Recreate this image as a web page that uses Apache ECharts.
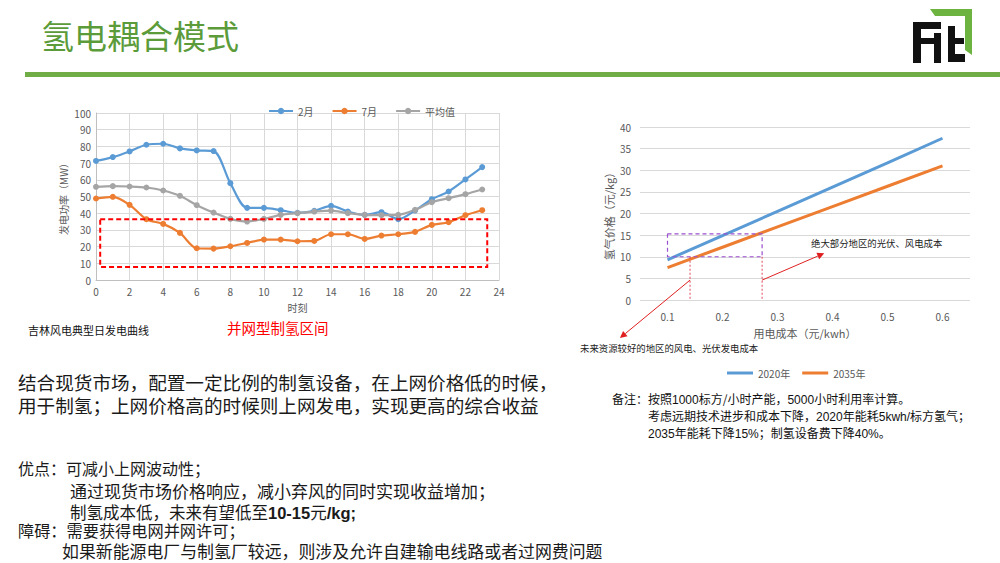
<!DOCTYPE html>
<html><head><meta charset="utf-8">
<script src="https://cdn.jsdelivr.net/npm/echarts@6/dist/echarts.min.js"></script>
<style>
html,body{margin:0;padding:0;background:#fff;}
#wrap{position:relative;width:1000px;height:563px;overflow:hidden;font-family:"Noto Sans CJK SC","Noto Sans",sans-serif;}
#chart{position:absolute;left:0;top:0;width:1000px;height:563px;}
.t{position:absolute;white-space:nowrap;color:#1a1a1a;}
.lat{font-family:"Liberation Sans",Arial,"Noto Sans CJK SC",sans-serif;}
</style></head>
<body><div id="wrap">
<div id="chart"></div>
<div class="t" style="left:41px;top:15px;font-size:33px;line-height:40px;color:#5B9B3A;">氢电耦合模式</div>
<div style="position:absolute;left:25px;top:72px;width:975px;height:5px;background:#70AD47;"></div>
<svg style="position:absolute;left:905px;top:6px;" width="80" height="62" viewBox="905 6 80 62">
  <polygon points="930,9 972,9 972,55 965,50 965,16 935,16" fill="#6CB33F"/>
  <path d="M913,22 h28 v7 h-20 v9 h18 v6 h-18 v19 h-8 z" fill="#111"/>
  <path d="M934,33 h7 v30 h-7 z" fill="#111"/>
  <path d="M948,26 h7 v28 h10 v8 h-17 z" fill="#111"/>
  <path d="M955,38 h9 v6 h-9 z" fill="#111"/>
</svg>
<div class="t" style="left:28px;top:322px;font-size:11px;line-height:16px;color:#111;">吉林风电典型日发电曲线</div>
<div class="t" style="left:227px;top:319px;font-size:14.5px;line-height:18px;color:#FF0000;">并网型制氢区间</div>
<div class="t" style="left:811px;top:236px;font-size:9.4px;line-height:14px;color:#222;">绝大部分地区的光伏、风电成本</div>
<div class="t" style="left:580px;top:341px;font-size:9.4px;line-height:14px;color:#222;">未来资源较好的地区的风电、光伏发电成本</div>
<div class="t" style="left:18px;top:373px;font-size:18.6px;line-height:18px;">结合现货市场，配置一定比例的制氢设备，在上网价格低的时候，</div>
<div class="t" style="left:18px;top:396px;font-size:18.6px;line-height:18px;">用于制氢；上网价格高的时候则上网发电，实现更高的综合收益</div>
<div class="t" style="left:612px;top:391px;font-size:12px;line-height:15px;color:#111;">备注：按照<span class="lat">1000</span>标方/小时产能，<span class="lat">5000</span>小时利用率计算。</div>
<div class="t" style="left:648px;top:408px;font-size:12px;line-height:15px;color:#111;">考虑远期技术进步和成本下降，<span class="lat">2020</span>年能耗<span class="lat">5kwh/</span>标方氢气；</div>
<div class="t" style="left:648px;top:425px;font-size:12px;line-height:15px;color:#111;"><span class="lat">2035</span>年能耗下降<span class="lat">15%</span>；制氢设备费下降<span class="lat">40%</span>。</div>
<div class="t" style="left:18px;top:460px;font-size:16px;line-height:16px;">优点：可减小上网波动性；</div>
<div class="t" style="left:70px;top:483px;font-size:17px;line-height:16px;">通过现货市场价格响应，减小弃风的同时实现收益增加；</div>
<div class="t" style="left:70px;top:504px;font-size:16.5px;line-height:16px;">制氢成本低，未来有望低至<span class="lat" style="font-weight:bold;">10-15</span>元<span class="lat" style="font-weight:bold;">/kg;</span></div>
<div class="t" style="left:18px;top:522px;font-size:16.2px;line-height:16px;">障碍：需要获得电网并网许可；</div>
<div class="t" style="left:62px;top:543px;font-size:16.9px;line-height:16px;">如果新能源电厂与制氢厂较远，则涉及允许自建输电线路或者过网费问题</div>
</div>
<script>
// ---- Left chart data (吉林风电典型日发电曲线) ----
const hours = [0,1,2,3,4,5,6,7,8,9,10,11,12,13,14,15,16,17,18,19,20,21,22,23];
const febPower = [71.3,73.6,77,81,81.6,78.8,77.6,77.2,58,43.2,43.2,41.8,40.2,41.4,44.4,41,39,40.6,36.4,41.6,48.4,53,60.2,67.6];
const julPower = [48.8,49.8,45,36.4,33.6,28.2,19,18.8,20.2,22.2,24.2,24.2,23.2,23.4,27.4,27.4,24.6,26.6,27.4,28.8,33,34.6,38.8,41.8];
const avgPower = [55.8,56.2,56,55.4,53.6,50.4,44.8,40.4,36.6,35,36.6,39,40,41,41.6,40,39,38.8,39,42,46.6,49,51.4,54.2];
const leftSeriesNames = ['2月','7月','平均值'];
const h2Zone = [[0.25,36.4],[23.3,7.8]]; // 并网型制氢区间 box corners (hour, MW)

// ---- Right chart data ----
const elecCost = [0.1,0.2,0.3,0.4,0.5,0.6];
const price2020 = [9.3,14.9,20.5,26.1,31.7,37.4];
const price2035 = [7.5,12.2,16.9,21.6,26.3,31.0];
const rightSeriesNames = ['2020年','2035年'];
const costBox = [[0.1,15.3],[0.272,10]];        // purple dashed box
const guideX = [0.141, 0.272];                 // red dotted guide lines
const arrowLow = [[0.141,4.6],[0.0135,-8.8]];  // arrow to lower note
const arrowHigh = [[0.272,4.6],[0.385,10.8]];  // arrow to upper note

const blue='#5B9BD5', orange='#ED7D31', gray='#A5A5A5';
const lab='#595959', grid='#D9D9D9';
const ff='"Noto Sans CJK SC","Noto Sans",sans-serif';

const chart = echarts.init(document.getElementById('chart'), null, {renderer:'svg'});
function pairs(xs, ys){ return xs.map((x,i)=>[x, ys[i]]); }

const option = {
  animation:false,
  textStyle:{fontFamily:ff},
  legend:[
    {left:263, top:101, itemWidth:24, itemHeight:8, itemGap:18, data:leftSeriesNames,
     textStyle:{fontSize:10,color:lab,fontFamily:ff}},
    {left:722, top:363, itemWidth:26, itemHeight:3, itemGap:12, icon:'rect', data:rightSeriesNames,
     textStyle:{fontSize:10,color:lab,fontFamily:ff}}
  ],
  grid:[
    {left:96, top:113, width:403, height:167},
    {left:640, top:127, width:330, height:173}
  ],
  xAxis:[
    {gridIndex:0, type:'value', min:0, max:24, interval:2,
     name:'时刻', nameLocation:'middle', nameGap:22, nameTextStyle:{fontSize:10,color:lab},
     axisLine:{show:true,lineStyle:{color:'#BFBFBF'}}, axisTick:{show:false},
     axisLabel:{fontSize:10,color:lab,margin:6},
     splitLine:{show:true,lineStyle:{color:grid}}},
    {gridIndex:1, type:'value', min:0.05, max:0.65,
     name:'用电成本（元/kwh）', nameLocation:'middle', nameGap:27, nameTextStyle:{fontSize:11,color:lab},
     axisLine:{show:false}, axisTick:{show:false},
     axisLabel:{fontSize:10,color:lab,margin:11,customValues:elecCost,formatter:v=>String(v)},
     splitLine:{show:false}}
  ],
  yAxis:[
    {gridIndex:0, type:'value', min:0, max:100, interval:10,
     name:'发电功率（MW）', nameLocation:'middle', nameGap:28, nameRotate:90, nameTextStyle:{fontSize:10,color:lab},
     axisLine:{show:true,lineStyle:{color:'#BFBFBF'}}, axisTick:{show:false},
     axisLabel:{fontSize:10,color:lab,margin:5},
     splitLine:{show:true,lineStyle:{color:grid}}},
    {gridIndex:1, type:'value', min:0, max:40, interval:5,
     name:'氢气价格（元/kg）', nameLocation:'middle', nameGap:26, nameRotate:90, nameTextStyle:{fontSize:11,color:lab},
     axisLine:{show:false}, axisTick:{show:false},
     axisLabel:{fontSize:10,color:lab,margin:9},
     splitLine:{show:true,lineStyle:{color:grid}}}
  ],
  series:[
    {name:leftSeriesNames[0], type:'line', xAxisIndex:0, yAxisIndex:0, data:pairs(hours,febPower),
     smooth:0.3, symbol:'circle', symbolSize:6, lineStyle:{width:2.2,color:blue}, itemStyle:{color:blue}},
    {name:leftSeriesNames[1], type:'line', xAxisIndex:0, yAxisIndex:0, data:pairs(hours,julPower),
     smooth:0.3, symbol:'circle', symbolSize:6, lineStyle:{width:2.2,color:orange}, itemStyle:{color:orange}},
    {name:leftSeriesNames[2], type:'line', xAxisIndex:0, yAxisIndex:0, data:pairs(hours,avgPower),
     smooth:0.3, symbol:'circle', symbolSize:6, lineStyle:{width:2.2,color:gray}, itemStyle:{color:gray}},
    {name:rightSeriesNames[0], type:'line', xAxisIndex:1, yAxisIndex:1, data:pairs(elecCost,price2020),
     showSymbol:false, symbol:'none', lineStyle:{width:3,color:blue}, itemStyle:{color:blue}},
    {name:rightSeriesNames[1], type:'line', xAxisIndex:1, yAxisIndex:1, data:pairs(elecCost,price2035),
     showSymbol:false, symbol:'none', lineStyle:{width:3,color:orange}, itemStyle:{color:orange}}
  ]
};
chart.setOption(option);

const L = p => chart.convertToPixel({xAxisIndex:0,yAxisIndex:0}, p);
const R = p => chart.convertToPixel({xAxisIndex:1,yAxisIndex:1}, p);
function rectOf(a,b,style){
  const x=Math.min(a[0],b[0]), y=Math.min(a[1],b[1]);
  return {type:'rect', shape:{x:x,y:y,width:Math.abs(b[0]-a[0]),height:Math.abs(b[1]-a[1])}, style:style, z:10};
}
function arrow(p0,p1,color){
  const dx=p1[0]-p0[0], dy=p1[1]-p0[1], len=Math.hypot(dx,dy), ux=dx/len, uy=dy/len;
  const s=7, w=3.5;
  const bx=p1[0]-ux*s, by=p1[1]-uy*s;
  return [
    {type:'line', shape:{x1:p0[0],y1:p0[1],x2:bx,y2:by}, style:{stroke:color,lineWidth:1}, z:10},
    {type:'polygon', shape:{points:[[p1[0],p1[1]],[bx-uy*w,by+ux*w],[bx+uy*w,by-ux*w]]}, style:{fill:color}, z:10}
  ];
}
const g=[];
const zA=L(h2Zone[0]), zB=L(h2Zone[1]);
g.push(rectOf(zA,zB,{fill:'none',stroke:'#FF0000',lineWidth:2,lineDash:[5,3]}));
const bA=R(costBox[0]), bB=R(costBox[1]);
g.push(rectOf(bA,bB,{fill:'none',stroke:'#9B4FD1',lineWidth:1.2,lineDash:[4,3]}));
guideX.forEach(x=>{
  const a=R([x,10]), b=R([x,0]);
  g.push({type:'line', shape:{x1:a[0],y1:a[1],x2:b[0],y2:b[1]}, style:{stroke:'#E0455A',lineWidth:1,lineDash:[2,2]}, z:10});
});
g.push(...arrow(R(arrowLow[0]),R(arrowLow[1]),'#E02020'));
g.push(...arrow(R(arrowHigh[0]),R(arrowHigh[1]),'#E02020'));
chart.setOption({graphic:g});
</script>
</body></html>
